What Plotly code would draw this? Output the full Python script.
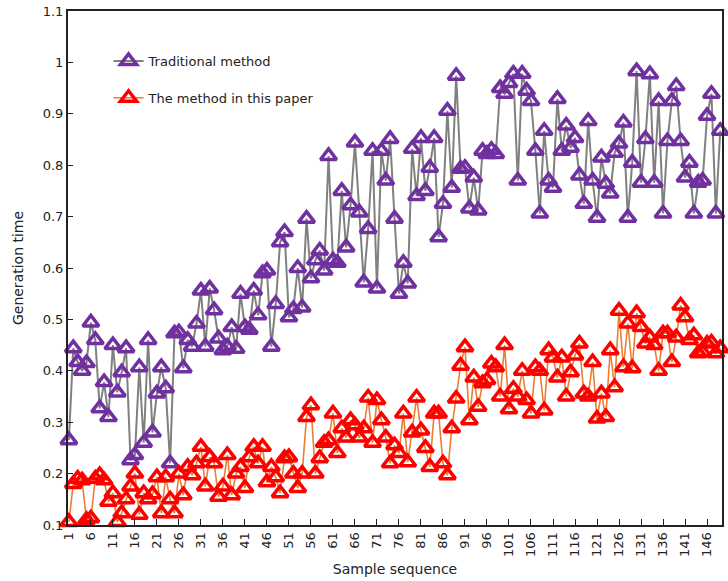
import plotly.graph_objects as go

traditional = [0.265,0.444,0.417,0.40,0.415,0.494,0.46,0.327,0.378,0.31,0.45,0.358,0.397,0.444,0.226,0.236,0.407,0.26,0.46,0.28,0.356,0.407,0.366,0.22,
 0.473,0.475,0.405,0.46,0.447,0.492,0.556,0.447,0.56,0.518,0.463,0.44,0.447,0.485,0.443,0.55,0.485,0.48,0.556,0.508,0.59,0.595,0.447,0.53,0.65,
 0.67,0.504,0.52,0.6,0.523,0.696,0.58,0.615,0.634,0.595,0.818,0.615,0.61,0.75,0.64,0.722,0.844,0.708,0.572,0.676,0.828,0.56,0.828,0.77,
 0.851,0.696,0.55,0.61,0.57,0.832,0.74,0.853,0.75,0.795,0.853,0.66,0.725,0.906,0.756,0.974,0.793,0.795,0.716,0.776,0.712,0.828,
 0.822,0.83,0.822,0.95,0.939,0.96,0.978,0.77,0.978,0.945,0.925,0.828,0.706,0.867,0.77,0.756,0.929,0.828,0.877,0.834,0.853,0.78,0.725,0.886,
 0.77,0.698,0.815,0.764,0.745,0.824,0.842,0.883,0.698,0.805,0.983,0.766,0.851,0.977,0.766,0.925,0.706,0.847,0.925,0.954,0.847,0.776,0.805,0.706,0.766,0.77,0.896,0.939,0.706,0.867]

proposed = [0.106,0.18,0.19,0.187,0.11,0.113,0.19,0.197,0.187,0.145,0.162,0.106,0.123,0.15,0.175,0.2,0.12,0.162,0.15,0.16,0.193,0.123,0.193,0.15,
 0.123,0.2,0.158,0.213,0.197,0.22,0.252,0.175,0.232,0.22,0.155,0.175,0.236,0.158,0.2,0.213,0.172,0.232,0.252,0.22,0.252,0.183,0.213,
 0.193,0.162,0.23,0.232,0.2,0.172,0.2,0.31,0.333,0.2,0.23,0.26,0.265,0.317,0.24,0.288,0.27,0.304,0.294,0.27,0.288,0.348,0.26,
 0.343,0.304,0.27,0.22,0.255,0.24,0.317,0.222,0.28,0.348,0.284,0.25,0.213,0.317,0.317,0.22,0.197,0.288,0.346,0.41,0.446,0.304,0.387,
 0.33,0.376,0.382,0.414,0.407,0.35,0.45,0.325,0.365,0.35,
 0.40,0.343,0.317,0.407,0.40,0.323,0.44,0.426,0.387,0.426,0.35,0.397,0.43,0.453,0.356,0.35,0.417,0.307,0.356,0.31,0.44,0.368,0.517,0.407,0.492,0.405,0.512,0.485,0.453,0.465,0.45,0.40,0.473,0.473,0.417,0.465,0.527,0.504,0.46,0.469,0.434,0.436,0.453,0.455,0.434,0.444]

samples = list(range(1, len(traditional) + 1))
x_tickvals = list(range(1, 150, 5))
x_ticktext = [str(v) for v in x_tickvals]
y_tickvals = [0.1, 0.2, 0.3, 0.4, 0.5, 0.6, 0.7, 0.8, 0.9, 1.0, 1.1]
y_ticktext = ["0.1", "0.2", "0.3", "0.4", "0.5", "0.6", "0.7", "0.8", "0.9", "1", "1.1"]

FONT = "DejaVu Sans, Verdana, sans-serif"

fig = go.Figure()
fig.add_trace(go.Scatter(
    x=samples, y=traditional, mode="lines+markers", name="Traditional method",
    line=dict(color="#808080", width=2), cliponaxis=False, legendgroup="a",
    marker=dict(symbol="triangle-up-open", size=14, color="#7030A0",
                line=dict(width=3.5, color="#7030A0"))))
fig.add_trace(go.Scatter(
    x=samples, y=proposed, mode="lines+markers", name="The method in this paper",
    line=dict(color="#ED7D31", width=1.6), cliponaxis=False, legendgroup="b",
    marker=dict(symbol="triangle-up-open", size=14, color="#FF0000",
                line=dict(width=3.5, color="#FF0000"))))

fig.update_layout(
    width=728, height=581,
    margin=dict(l=68, r=4, t=10, b=56),
    paper_bgcolor="white", plot_bgcolor="white",
    font=dict(family=FONT, size=13, color="#222222"),
    showlegend=True,
    legend=dict(x=0.062, y=0.932, xanchor="left", yanchor="top",
                bgcolor="rgba(0,0,0,0)", font=dict(size=13, family=FONT),
                tracegroupgap=17, traceorder="grouped"),
    xaxis=dict(range=[0.8, 149.4], tickvals=x_tickvals, ticktext=x_ticktext,
               tickangle=-90, ticks="inside", ticklen=6, tickcolor="#222",
               showline=True, linecolor="#222", linewidth=2, mirror=True,
               showgrid=False, zeroline=False,
               title=dict(text="Sample sequence", font=dict(size=14, family=FONT), standoff=8),
               tickfont=dict(size=13, family=FONT)),
    yaxis=dict(range=[0.1, 1.1], tickvals=y_tickvals, ticktext=y_ticktext,
               ticks="inside", ticklen=5, tickcolor="#222",
               showline=True, linecolor="#222", linewidth=2, mirror=True,
               showgrid=False, zeroline=False,
               title=dict(text="Generation time", font=dict(size=14, family=FONT), standoff=16),
               tickfont=dict(size=13, family=FONT)),
)

fig.write_html("out.html")
